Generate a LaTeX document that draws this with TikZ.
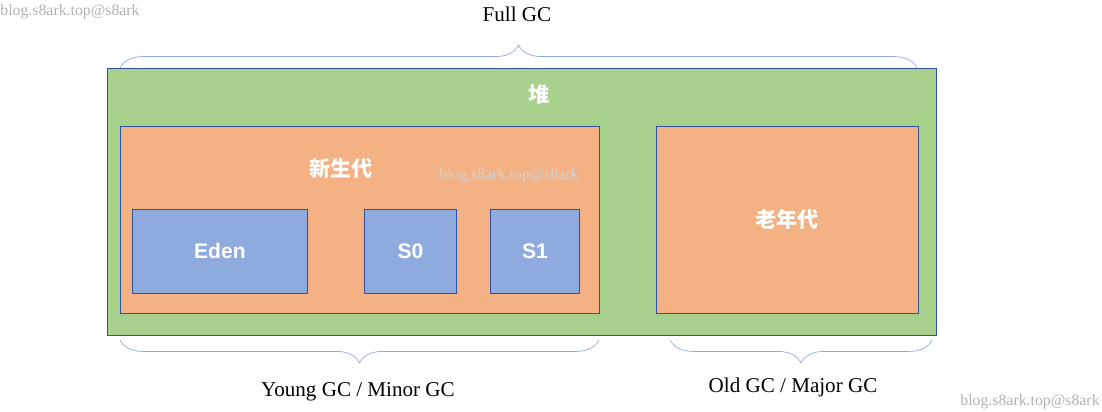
\documentclass[tikz,border=0pt]{standalone}
\usepackage{fontspec}
\setmainfont{Liberation Serif}
\setsansfont{Liberation Sans}
\newfontfamily\cjk{Noto Sans CJK SC}
\usetikzlibrary{decorations.pathreplacing}
\definecolor{heapgreen}{HTML}{A9D18E}
\definecolor{genorange}{HTML}{F4B183}
\definecolor{areablue}{HTML}{8FAADC}
\definecolor{edgeblue}{HTML}{2F52A0}
\begin{document}
\begin{tikzpicture}[
    x=0.02cm, y=-0.02cm,
    box/.style={draw=edgeblue, line width=0.5pt, anchor=north west, inner sep=0pt},
    title/.style={text=white, font=\cjk\bfseries\large},
    area/.style={box, fill=areablue},
    arealabel/.style={text=white, font=\sffamily\bfseries\large},
    gcbrace/.style={draw=areablue, decorate, decoration={brace, amplitude=#1}},
    gclabel/.style={font=\large},
    mark/.style={text=gray!#1, font=\small}
  ]
    \useasboundingbox (0,0) rectangle (1102,412);

    % Heap and generations
    \node[box, fill=heapgreen, minimum width=829*0.02cm, minimum height=267*0.02cm] (heap) at (107,68) {};
    \node[title] (heaptitle) at (539,95) {堆};
    \node[box, fill=genorange, minimum width=479*0.02cm, minimum height=187*0.02cm] (young) at (120,126) {};
    \node[title] (youngtitle) at (341,168) {新生代};
    \node[box, fill=genorange, minimum width=262*0.02cm, minimum height=187*0.02cm] (old) at (656,126) {};
    \node[title] at (old.center) {老年代};

    % Areas
    \node[area, minimum width=175*0.02cm, minimum height=84*0.02cm] (eden) at (132,209) {};
    \node[arealabel] at (eden.center) {Eden};
    \node[area, minimum width=92*0.02cm, minimum height=84*0.02cm] (s0) at (364,209) {};
    \node[arealabel] at (s0.center) {S0};
    \node[area, minimum width=89*0.02cm, minimum height=84*0.02cm] (s1) at (490,209) {};
    \node[arealabel] at (s1.center) {S1};

    % Braces
    \coordinate (fullL) at (120,68);
    \coordinate (fullR) at (917,68);
    \coordinate (youngL) at (120,340);
    \coordinate (youngR) at (599,340);
    \coordinate (oldL) at (670,340);
    \coordinate (oldR) at (932,340);
    \draw[gcbrace=13pt] (fullL) -- (fullR);
    \draw[gcbrace=13pt] (youngR) -- (youngL);
    \draw[gcbrace=13pt] (oldR) -- (oldL);
    \node[gclabel] (full) at (517,14) {Full GC};
    \node[gclabel] (minor) at (358,392) {Young GC / Minor GC};
    \node[gclabel] (major) at (793,387) {Old GC / Major GC};

    % Watermarks
    \node[mark=60] at (70,12) {blog.s8ark.top@s8ark};
    \node[mark=35] at (509,176) {blog.s8ark.top@s8ark};
    \node[mark=60] at (1030,402) {blog.s8ark.top@s8ark};
\end{tikzpicture}
\end{document}
